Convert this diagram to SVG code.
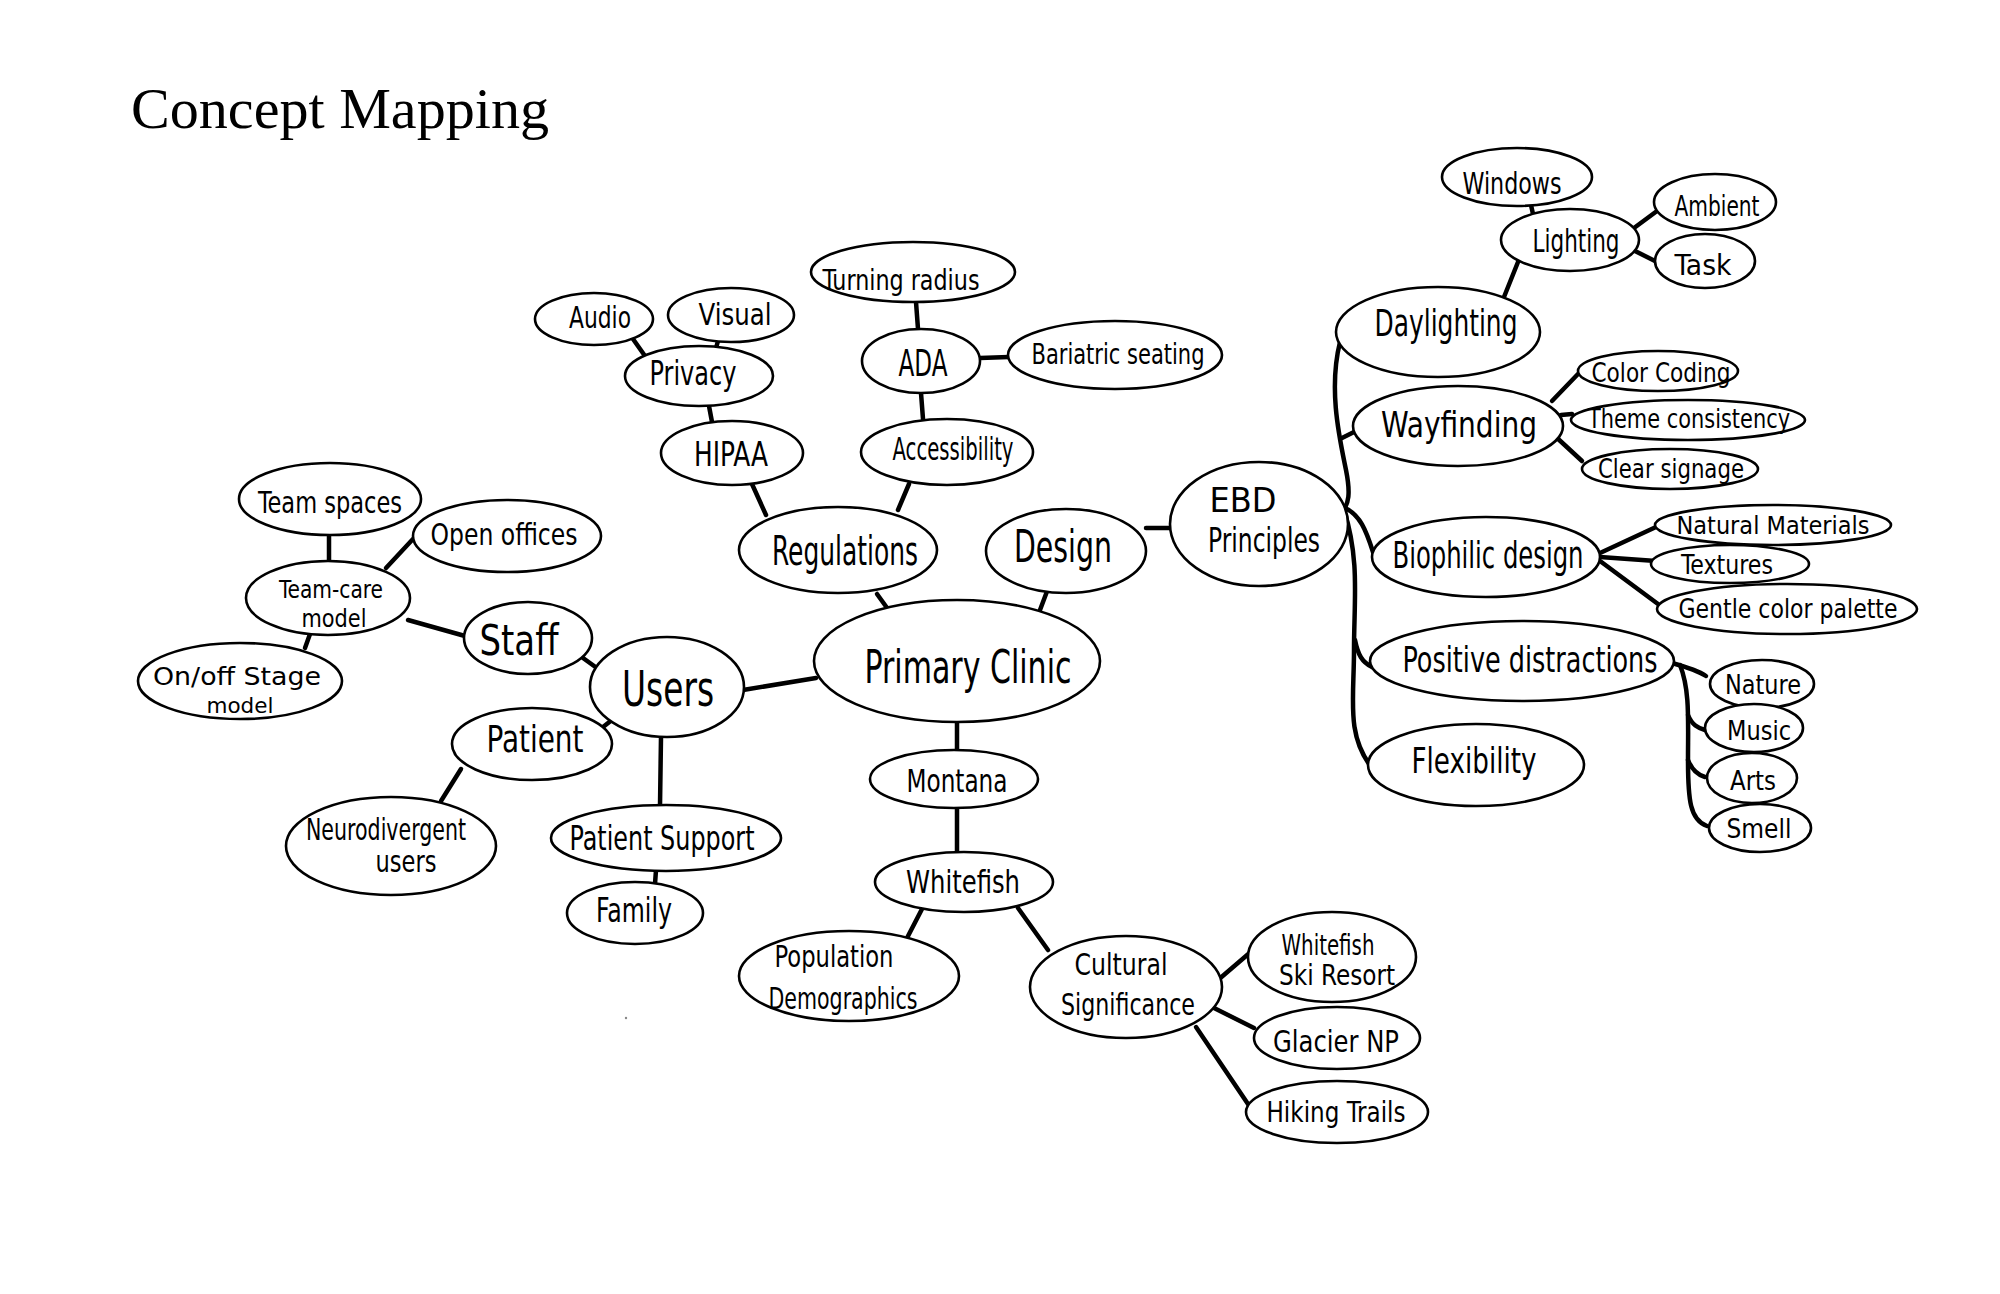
<svg xmlns="http://www.w3.org/2000/svg" width="2000" height="1294" viewBox="0 0 2000 1294">
<style>
.n ellipse{fill:#fff;stroke:#000;stroke-width:2.6}
.n text{font-family:"Liberation Sans Narrow","DejaVu Sans Condensed","Liberation Sans",sans-serif;fill:#000;text-anchor:middle}
#connectors path{fill:none;stroke:#000;stroke-width:4.5;stroke-linecap:round}
.title{font-family:"Liberation Serif","DejaVu Serif",serif;font-size:56px;fill:#000}
</style>
<rect width="2000" height="1294" fill="#fff"/>
<text class="title" x="131" y="128" textLength="418" lengthAdjust="spacingAndGlyphs">Concept Mapping</text>
<g id="connectors">
<path d="M743,690 L816,678"/>
<path d="M877,594 L890,612"/>
<path d="M1049,586 L1040,610"/>
<path d="M957,722 L957,751"/>
<path d="M1146,528 L1171,528"/>
<path d="M752,484 L766,515"/>
<path d="M909,484 L898,510"/>
<path d="M709,406 L712,422"/>
<path d="M633,339 L645,356"/>
<path d="M718,341 L716,348"/>
<path d="M916,302 L918,329"/>
<path d="M980,358 L1009,357"/>
<path d="M921,393 L923,419"/>
<path d="M583,658 L601,671"/>
<path d="M603,727 L617,716"/>
<path d="M661,737 L660,806"/>
<path d="M408,620 L465,636"/>
<path d="M329,535 L329,561"/>
<path d="M386,568 L413,539"/>
<path d="M310,634 L305,648"/>
<path d="M461,769 L441,801"/>
<path d="M656,870 L655,884"/>
<path d="M1504,297 L1518,262"/>
<path d="M1531,205 L1533,214"/>
<path d="M1634,228 L1657,211"/>
<path d="M1635,251 L1657,262"/>
<path d="M1340,342 C1328,390 1340,440 1346,470 C1352,500 1346,505 1344,510 C1360,560 1354,600 1354,650 C1354,700 1346,735 1372,768"/>
<path d="M1342,438 L1354,432"/>
<path d="M1345,508 C1360,515 1366,530 1373,552"/>
<path d="M1355,640 C1358,655 1362,662 1372,667"/>
<path d="M1552,401 L1578,374"/>
<path d="M1561,415 L1572,414"/>
<path d="M1556,437 L1582,461"/>
<path d="M1600,553 L1656,527"/>
<path d="M1600,557 L1656,561"/>
<path d="M1600,561 L1658,604"/>
<path d="M1672,663 C1690,668 1700,672 1706,676"/>
<path d="M1680,665 C1690,690 1688,720 1688,760 C1688,800 1690,820 1707,826"/>
<path d="M1688,715 C1692,725 1698,728 1705,730"/>
<path d="M1688,760 C1692,770 1698,775 1705,777"/>
<path d="M957,809 L957,852"/>
<path d="M922,909 L907,938"/>
<path d="M1018,908 L1048,950"/>
<path d="M1218,980 L1253,950"/>
<path d="M1214,1008 L1254,1028"/>
<path d="M1196,1027 L1250,1107"/>
</g>
<g id="primary-clinic" class="n"><ellipse cx="957" cy="661" rx="143" ry="61"/><text x="968" y="683" font-size="46" textLength="207" lengthAdjust="spacingAndGlyphs">Primary Clinic</text></g>
<g id="users" class="n"><ellipse cx="667" cy="687" rx="77" ry="50"/><text x="668" y="706" font-size="50" textLength="92" lengthAdjust="spacingAndGlyphs">Users</text></g>
<g id="staff" class="n"><ellipse cx="528" cy="638" rx="64" ry="36"/><text x="519" y="655" font-size="42" textLength="79" lengthAdjust="spacingAndGlyphs">Staff</text></g>
<g id="team-care" class="n"><ellipse cx="328" cy="598" rx="82" ry="37"/><text x="331" y="598" font-size="24" textLength="104" lengthAdjust="spacingAndGlyphs">Team-care</text><text x="334" y="627" font-size="24" textLength="65" lengthAdjust="spacingAndGlyphs">model</text></g>
<g id="team-spaces" class="n"><ellipse cx="330" cy="499" rx="91" ry="36"/><text x="330" y="513" font-size="30" textLength="144" lengthAdjust="spacingAndGlyphs">Team spaces</text></g>
<g id="open-offices" class="n"><ellipse cx="507" cy="536" rx="94" ry="36"/><text x="504" y="545" font-size="30" textLength="147" lengthAdjust="spacingAndGlyphs">Open offices</text></g>
<g id="onoff-stage" class="n"><ellipse cx="240" cy="681" rx="102" ry="38"/><text x="237" y="685" font-size="25" textLength="168" lengthAdjust="spacingAndGlyphs">On/off Stage</text><text x="240" y="713" font-size="22" textLength="67" lengthAdjust="spacingAndGlyphs">model</text></g>
<g id="patient" class="n"><ellipse cx="532" cy="744" rx="80" ry="36"/><text x="535" y="752" font-size="38" textLength="97" lengthAdjust="spacingAndGlyphs">Patient</text></g>
<g id="neurodivergent" class="n"><ellipse cx="391" cy="846" rx="105" ry="49"/><text x="386" y="840" font-size="30" textLength="160" lengthAdjust="spacingAndGlyphs">Neurodivergent</text><text x="406" y="872" font-size="30" textLength="61" lengthAdjust="spacingAndGlyphs">users</text></g>
<g id="patient-support" class="n"><ellipse cx="666" cy="838" rx="115" ry="33"/><text x="662" y="850" font-size="34" textLength="185" lengthAdjust="spacingAndGlyphs">Patient Support</text></g>
<g id="family" class="n"><ellipse cx="635" cy="913" rx="68" ry="31"/><text x="634" y="922" font-size="34" textLength="76" lengthAdjust="spacingAndGlyphs">Family</text></g>
<g id="regulations" class="n"><ellipse cx="838" cy="550" rx="99" ry="43"/><text x="845" y="565" font-size="40" textLength="146" lengthAdjust="spacingAndGlyphs">Regulations</text></g>
<g id="hipaa" class="n"><ellipse cx="732" cy="453" rx="71" ry="32"/><text x="731" y="466" font-size="34" textLength="74" lengthAdjust="spacingAndGlyphs">HIPAA</text></g>
<g id="privacy" class="n"><ellipse cx="699" cy="376" rx="74" ry="30"/><text x="693" y="385" font-size="34" textLength="87" lengthAdjust="spacingAndGlyphs">Privacy</text></g>
<g id="audio" class="n"><ellipse cx="594" cy="319" rx="59" ry="26"/><text x="600" y="328" font-size="30" textLength="62" lengthAdjust="spacingAndGlyphs">Audio</text></g>
<g id="visual" class="n"><ellipse cx="731" cy="315" rx="63" ry="27"/><text x="735" y="325" font-size="30" textLength="73" lengthAdjust="spacingAndGlyphs">Visual</text></g>
<g id="turning-radius" class="n"><ellipse cx="913" cy="272" rx="102" ry="30"/><text x="901" y="290" font-size="28" textLength="157" lengthAdjust="spacingAndGlyphs">Turning radius</text></g>
<g id="ada" class="n"><ellipse cx="921" cy="361" rx="59" ry="32"/><text x="923" y="376" font-size="38" textLength="49" lengthAdjust="spacingAndGlyphs">ADA</text></g>
<g id="bariatric-seating" class="n"><ellipse cx="1115" cy="355" rx="107" ry="34"/><text x="1118" y="364" font-size="28" textLength="173" lengthAdjust="spacingAndGlyphs">Bariatric seating</text></g>
<g id="accessibility" class="n"><ellipse cx="947" cy="452" rx="86" ry="33"/><text x="953" y="460" font-size="32" textLength="121" lengthAdjust="spacingAndGlyphs">Accessibility</text></g>
<g id="design" class="n"><ellipse cx="1066" cy="551" rx="80" ry="42"/><text x="1063" y="562" font-size="44" textLength="98" lengthAdjust="spacingAndGlyphs">Design</text></g>
<g id="ebd-principles" class="n"><ellipse cx="1259" cy="524" rx="89" ry="62"/><text x="1243" y="512" font-size="34" textLength="67" lengthAdjust="spacingAndGlyphs">EBD</text><text x="1264" y="552" font-size="34" textLength="112" lengthAdjust="spacingAndGlyphs">Principles</text></g>
<g id="daylighting" class="n"><ellipse cx="1438" cy="332" rx="102" ry="45"/><text x="1446" y="336" font-size="38" textLength="143" lengthAdjust="spacingAndGlyphs">Daylighting</text></g>
<g id="lighting" class="n"><ellipse cx="1570" cy="240" rx="69" ry="31"/><text x="1576" y="252" font-size="32" textLength="87" lengthAdjust="spacingAndGlyphs">Lighting</text></g>
<g id="windows" class="n"><ellipse cx="1517" cy="177" rx="75" ry="29"/><text x="1512" y="194" font-size="30" textLength="99" lengthAdjust="spacingAndGlyphs">Windows</text></g>
<g id="ambient" class="n"><ellipse cx="1715" cy="202" rx="61" ry="28"/><text x="1717" y="216" font-size="28" textLength="85" lengthAdjust="spacingAndGlyphs">Ambient</text></g>
<g id="task" class="n"><ellipse cx="1705" cy="261" rx="50" ry="27"/><text x="1703" y="275" font-size="28" textLength="57" lengthAdjust="spacingAndGlyphs">Task</text></g>
<g id="wayfinding" class="n"><ellipse cx="1458" cy="426" rx="105" ry="40"/><text x="1459" y="437" font-size="36" textLength="156" lengthAdjust="spacingAndGlyphs">Wayfinding</text></g>
<g id="color-coding" class="n"><ellipse cx="1658" cy="371" rx="80" ry="20"/><text x="1661" y="382" font-size="26" textLength="139" lengthAdjust="spacingAndGlyphs">Color Coding</text></g>
<g id="theme-consistency" class="n"><ellipse cx="1688" cy="420" rx="117" ry="20"/><text x="1689" y="428" font-size="26" textLength="202" lengthAdjust="spacingAndGlyphs">Theme consistency</text></g>
<g id="clear-signage" class="n"><ellipse cx="1670" cy="469" rx="88" ry="20"/><text x="1671" y="478" font-size="26" textLength="146" lengthAdjust="spacingAndGlyphs">Clear signage</text></g>
<g id="biophilic-design" class="n"><ellipse cx="1486" cy="557" rx="114" ry="40"/><text x="1488" y="568" font-size="38" textLength="191" lengthAdjust="spacingAndGlyphs">Biophilic design</text></g>
<g id="natural-materials" class="n"><ellipse cx="1773" cy="525" rx="118" ry="20"/><text x="1773" y="534" font-size="24" textLength="193" lengthAdjust="spacingAndGlyphs">Natural Materials</text></g>
<g id="textures" class="n"><ellipse cx="1730" cy="564" rx="79" ry="19"/><text x="1727" y="574" font-size="26" textLength="92" lengthAdjust="spacingAndGlyphs">Textures</text></g>
<g id="gentle-color-palette" class="n"><ellipse cx="1787" cy="609" rx="130" ry="25"/><text x="1788" y="618" font-size="26" textLength="219" lengthAdjust="spacingAndGlyphs">Gentle color palette</text></g>
<g id="positive-distractions" class="n"><ellipse cx="1522" cy="661" rx="152" ry="40"/><text x="1530" y="672" font-size="36" textLength="255" lengthAdjust="spacingAndGlyphs">Positive distractions</text></g>
<g id="flexibility" class="n"><ellipse cx="1476" cy="765" rx="108" ry="41"/><text x="1474" y="773" font-size="36" textLength="125" lengthAdjust="spacingAndGlyphs">Flexibility</text></g>
<g id="nature" class="n"><ellipse cx="1762" cy="684" rx="52" ry="24"/><text x="1763" y="694" font-size="26" textLength="76" lengthAdjust="spacingAndGlyphs">Nature</text></g>
<g id="music" class="n"><ellipse cx="1754" cy="728" rx="49" ry="24"/><text x="1759" y="740" font-size="26" textLength="64" lengthAdjust="spacingAndGlyphs">Music</text></g>
<g id="arts" class="n"><ellipse cx="1752" cy="778" rx="45" ry="25"/><text x="1753" y="790" font-size="26" textLength="46" lengthAdjust="spacingAndGlyphs">Arts</text></g>
<g id="smell" class="n"><ellipse cx="1760" cy="828" rx="51" ry="24"/><text x="1759" y="838" font-size="26" textLength="65" lengthAdjust="spacingAndGlyphs">Smell</text></g>
<g id="montana" class="n"><ellipse cx="954" cy="779" rx="84" ry="29"/><text x="957" y="792" font-size="32" textLength="101" lengthAdjust="spacingAndGlyphs">Montana</text></g>
<g id="whitefish" class="n"><ellipse cx="964" cy="882" rx="89" ry="30"/><text x="963" y="893" font-size="32" textLength="114" lengthAdjust="spacingAndGlyphs">Whitefish</text></g>
<g id="population-demographics" class="n"><ellipse cx="849" cy="976" rx="110" ry="45"/><text x="834" y="967" font-size="30" textLength="119" lengthAdjust="spacingAndGlyphs">Population</text><text x="843" y="1009" font-size="30" textLength="149" lengthAdjust="spacingAndGlyphs">Demographics</text></g>
<g id="cultural-significance" class="n"><ellipse cx="1126" cy="987" rx="96" ry="51"/><text x="1121" y="975" font-size="30" textLength="93" lengthAdjust="spacingAndGlyphs">Cultural</text><text x="1128" y="1015" font-size="30" textLength="134" lengthAdjust="spacingAndGlyphs">Significance</text></g>
<g id="whitefish-ski-resort" class="n"><ellipse cx="1332" cy="957" rx="84" ry="45"/><text x="1328" y="955" font-size="28" textLength="93" lengthAdjust="spacingAndGlyphs">Whitefish</text><text x="1337" y="985" font-size="28" textLength="116" lengthAdjust="spacingAndGlyphs">Ski Resort</text></g>
<g id="glacier-np" class="n"><ellipse cx="1337" cy="1038" rx="83" ry="31"/><text x="1336" y="1052" font-size="30" textLength="126" lengthAdjust="spacingAndGlyphs">Glacier NP</text></g>
<g id="hiking-trails" class="n"><ellipse cx="1337" cy="1112" rx="91" ry="31"/><text x="1336" y="1122" font-size="28" textLength="139" lengthAdjust="spacingAndGlyphs">Hiking Trails</text></g>
<circle cx="626" cy="1018" r="1.2" fill="#888"/>
</svg>
